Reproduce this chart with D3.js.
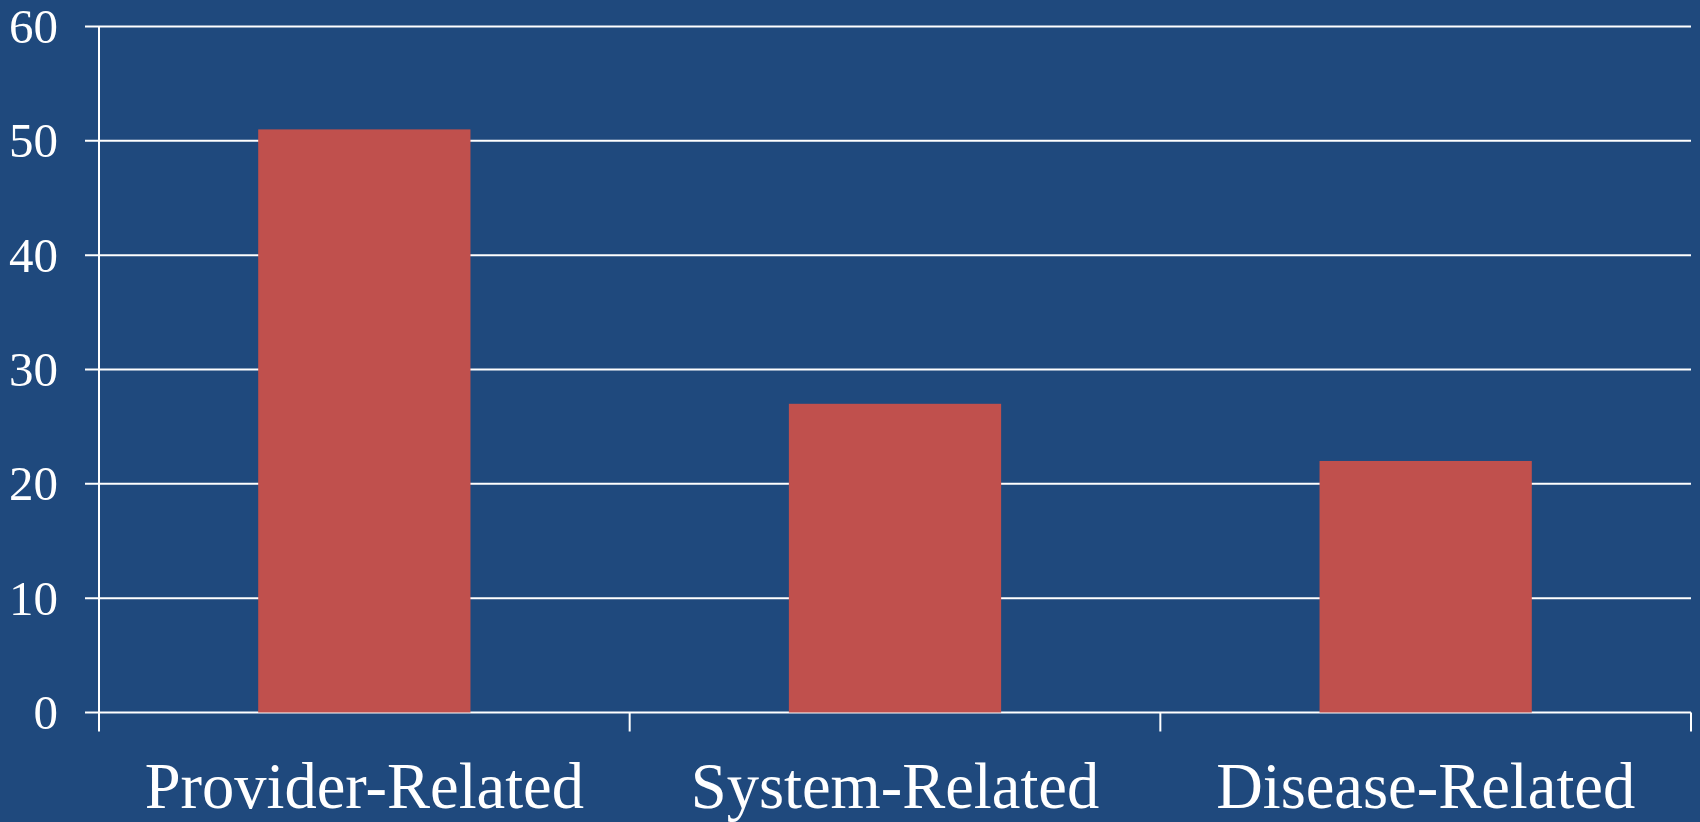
<!DOCTYPE html>
<html>
<head>
<meta charset="utf-8">
<script src="https://cdn.jsdelivr.net/npm/d3@7"></script>
<style>
  html, body { margin: 0; padding: 0; background: #1f497d; }
  svg { display: block; }
  text { font-family: "Liberation Serif", "Times New Roman", serif; fill: #ffffff; }
</style>
</head>
<body>
<svg id="chart" width="1700" height="822"></svg>
<script>
// Share of cases by cause category
const categories = ["Provider-Related", "System-Related", "Disease-Related"];
const values = [51, 27, 22];
const yTicks = [0, 10, 20, 30, 40, 50, 60];

const W = 1700, H = 822;
const margin = { left: 99, right: 9, top: 26.5, bottom: 109.5 };
const svg = d3.select("#chart");
svg.append("rect").attr("width", W).attr("height", H).attr("fill", "#1f497d");

const x = d3.scaleBand()
  .domain(categories)
  .range([margin.left, W - margin.right])
  .paddingInner(0.6)
  .paddingOuter(0.3);

const y = d3.scaleLinear()
  .domain([0, 60])
  .range([H - margin.bottom, margin.top]);

// Horizontal gridlines with short outward ticks
svg.append("g")
  .selectAll("line")
  .data(yTicks)
  .join("line")
  .attr("x1", margin.left - 14)
  .attr("x2", W - margin.right)
  .attr("y1", d => y(d))
  .attr("y2", d => y(d))
  .attr("stroke", "#ffffff")
  .attr("stroke-width", 2);

// Y tick labels
svg.append("g")
  .selectAll("text")
  .data(yTicks)
  .join("text")
  .attr("x", 58)
  .attr("y", d => y(d))
  .attr("dy", "0.34em")
  .attr("text-anchor", "end")
  .attr("font-size", 49)
  .text(d => d);

// Bars
svg.append("g")
  .selectAll("rect")
  .data(values)
  .join("rect")
  .attr("x", (d, i) => x(categories[i]))
  .attr("width", x.bandwidth())
  .attr("y", d => y(d))
  .attr("height", d => y(0) - y(d))
  .attr("fill", "#c0504d");

// Y axis line
svg.append("line")
  .attr("x1", margin.left).attr("x2", margin.left)
  .attr("y1", y(60)).attr("y2", y(0) + 19)
  .attr("stroke", "#ffffff").attr("stroke-width", 2);

// Category boundary ticks below the baseline
const bounds = d3.range(categories.length + 1).map(i => margin.left + i * (W - margin.left - margin.right) / categories.length);
svg.append("g")
  .selectAll("line")
  .data(bounds.slice(1))
  .join("line")
  .attr("x1", d => d).attr("x2", d => d)
  .attr("y1", y(0)).attr("y2", y(0) + 19)
  .attr("stroke", "#ffffff").attr("stroke-width", 2);

// Category labels
svg.append("g")
  .selectAll("text")
  .data(categories)
  .join("text")
  .attr("x", d => x(d) + x.bandwidth() / 2)
  .attr("y", 808)
  .attr("text-anchor", "middle")
  .attr("font-size", 64.5)
  .text(d => d);
</script>
</body>
</html>
